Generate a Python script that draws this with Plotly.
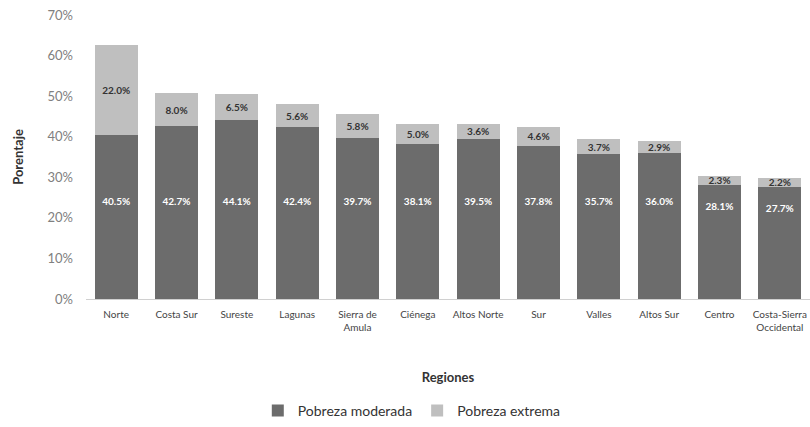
import plotly.graph_objects as go

regiones = ["Norte", "Costa Sur", "Sureste", "Lagunas", "Sierra de<br>Amula", "Ciénega",
            "Altos Norte", "Sur", "Valles", "Altos Sur", "Centro", "Costa-Sierra<br>Occidental"]
moderada = [40.5, 42.7, 44.1, 42.4, 39.7, 38.1, 39.5, 37.8, 35.7, 36.0, 28.1, 27.7]
extrema = [22.0, 8.0, 6.5, 5.6, 5.8, 5.0, 3.6, 4.6, 3.7, 2.9, 2.3, 2.2]

font_fam = "Lato, Open Sans, sans-serif"

# moderate labels sit at a roughly common height inside the dark segment
label_pos = [min(23.8, v * 0.8) for v in moderada]

fig = go.Figure()
fig.add_trace(go.Bar(
    x=regiones, y=moderada, name="Pobreza moderada",
    marker=dict(color="#6c6c6c", line=dict(width=0)),
    textposition="none",
))
fig.add_trace(go.Bar(
    x=regiones, y=extrema, name="Pobreza extrema",
    marker=dict(color="#bfbfbf", line=dict(width=0)),
    texttemplate="%{y:.1f}%", textposition="inside", insidetextanchor="middle",
    textangle=0, constraintext="none",
    textfont=dict(color="#333333", size=10, family=font_fam, weight="bold"),
))
fig.add_trace(go.Scatter(
    x=regiones, y=label_pos, mode="text",
    text=[f"{v:.1f}%" for v in moderada],
    textfont=dict(color="white", size=10, family=font_fam, weight="bold"),
    showlegend=False, hoverinfo="skip",
))

fig.update_layout(
    barmode="stack",
    bargap=0.29,
    width=810, height=427,
    margin=dict(l=86, r=0, t=15, b=127),
    paper_bgcolor="white", plot_bgcolor="white",
    font=dict(family=font_fam, color="#444444"),
    showlegend=True,
    legend=dict(orientation="h", x=0.45, xanchor="center", y=-0.393, yanchor="middle",
                font=dict(size=14, color="#333333"), itemwidth=30, traceorder="normal"),
    xaxis=dict(
        automargin=False,
        range=[-0.5, len(regiones) - 0.5],
        title=dict(text="Regiones", font=dict(size=13, color="#333333", weight="bold"), standoff=40),
        tickfont=dict(size=10, color="#444444"),
        ticklabelstandoff=6,
        showline=True, linecolor="#d0d0d0", linewidth=1, ticks="",
        showgrid=False,
    ),
    yaxis=dict(
        automargin=False,
        title=dict(text="Porentaje", font=dict(size=13, color="#333333", weight="bold"), standoff=20),
        range=[0, 70], dtick=10, ticksuffix="%",
        tickfont=dict(size=13, color="#808080"),
        ticklabelstandoff=12,
        showgrid=False, zeroline=False, showline=False,
    ),
)

fig.write_html("out.html", config={"displayModeBar": False},
               post_script="document.body.style.margin='0';")
